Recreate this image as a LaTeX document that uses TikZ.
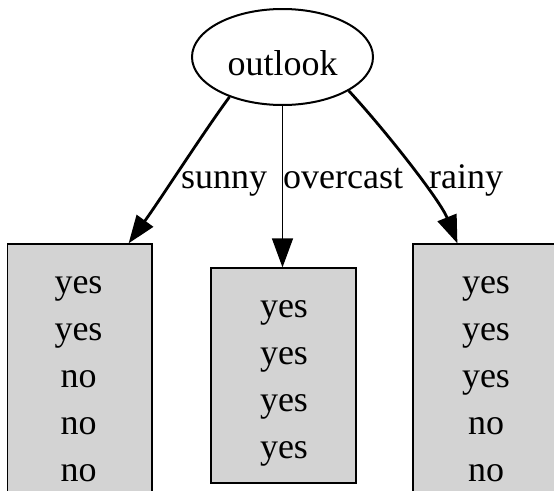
\documentclass[tikz,border=0pt]{standalone}
\usepackage{fontspec}
\setmainfont{Liberation Serif}
\usetikzlibrary{arrows.meta,calc,shapes.geometric}
\begin{document}
\begin{tikzpicture}[x=1pt,y=1pt,
  txt/.style={font=\fontsize{36}{47}\selectfont, inner sep=0pt},
  leaf/.style={draw=black, line width=1.2pt, fill={rgb,255:red,211;green,211;blue,211}, rectangle, inner sep=0pt},
  rootnode/.style={draw=black, line width=2pt, ellipse, inner sep=0pt, minimum width=181pt, minimum height=96pt, font=\fontsize{36}{47}\selectfont, text height=36pt, text depth=0pt},
  thickedge/.style={line width=2.8pt, -{Triangle[length=28pt,width=20pt]}},
  thinedge/.style={line width=1.3pt, -{Triangle[length=29pt,width=21pt]}},
  elabel/.style={txt, anchor=base west}]
\useasboundingbox (0,0) rectangle (554,-490);
\clip (0,0) rectangle (554,-490);
\node[rootnode] (out) at (282.5,-57) {outlook};
\node[leaf, minimum width=144.5pt, minimum height=262pt] (L) at (79.75,-375) {};
\node[leaf, minimum width=145pt, minimum height=215pt] (M) at (283.5,-375.5) {};
\node[leaf, minimum width=145pt, minimum height=262pt] (R) at (485.5,-375) {};
\node[txt, anchor=base, align=center] (Lt) at (78.5,-481) {yes\\yes\\no\\no\\no};
\node[txt, anchor=base, align=center] (Mt) at (284,-458) {yes\\yes\\yes\\yes};
\node[txt, anchor=base, align=center] (Rt) at (486,-481) {yes\\yes\\yes\\no\\no};
\draw[thickedge] (out.217) .. controls (205,-130) and (160,-200) .. ($(L.north east)+(-24,0)$);
\draw[thinedge] (out.south) -- (out.south |- M.north);
\draw[thickedge] (out.-27) .. controls (385,-130) and (440,-200) .. ($(R.north west)+(45,0)$);
\node[elabel] (ls) at (181,-188) {sunny};
\node[elabel] (lo) at (283,-188) {overcast};
\node[elabel] (lr) at (429,-188) {rainy};
\end{tikzpicture}
\end{document}
